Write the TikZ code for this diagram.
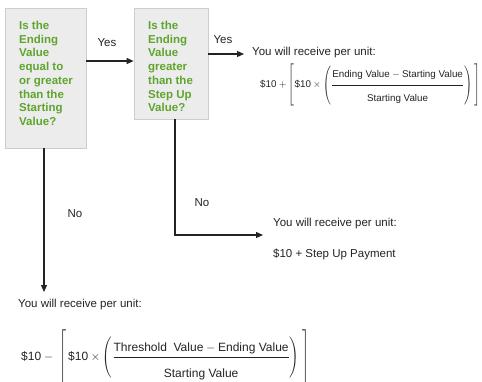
\documentclass[tikz,border=0pt]{standalone}
\usepackage{amsmath}
\usepackage{graphicx}
\usepackage{fontspec}
\setmainfont{Liberation Sans}
\usetikzlibrary{arrows.meta,calc}
\definecolor{qgreen}{RGB}{95,165,45}
\definecolor{boxfill}{RGB}{236,236,236}
\definecolor{boxline}{RGB}{205,205,205}
\definecolor{ink}{RGB}{35,35,35}
% delimiter of height factor #2 times \Bigg size
\newcommand\dopen[2]{\mathopen{\vcenter{\hbox{\scalebox{1}[#2]{$\Biggl#1$}}}}}
\newcommand\dclose[2]{\mathclose{\vcenter{\hbox{\scalebox{1}[#2]{$\Biggr#1$}}}}}
\begin{document}
\begin{tikzpicture}[x=1pt,y=-1pt,
 qbox/.style={draw=boxline, fill=boxfill, line width=0.8pt, inner sep=0},
 qtext/.style={text=qgreen, font=\fontsize{11.5}{13.7}\selectfont\bfseries, align=left, anchor=north west, inner sep=0},
 lbl/.style={text=ink, font=\fontsize{11.5}{13.7}\selectfont, inner sep=0},
 conn/.style={draw=ink, line width=1.2pt},
 arr/.style={conn, -{Triangle[length=7pt,width=6pt]}},
]
\useasboundingbox (0,0) rectangle (482,381);
\node[qbox, minimum width=81pt, minimum height=140pt] (b1) at (45.5,78) {};
\node[qbox, minimum width=74pt, minimum height=111pt] (b2) at (171,63.5) {};
\node[qtext] (t1) at (19,21) {Is the\\Ending\\Value\\equal to\\or greater\\than the\\Starting\\Value?};
\node[qtext] (t2) at (148,21) {Is the\\Ending\\Value\\greater\\than the\\Step Up\\Value?};

\node[lbl] (y1) at (107,43) {Yes};
\node[lbl] (y2) at (223,40) {Yes};
\node[lbl] (n1) at (75,214) {No};
\node[lbl] (n2) at (202,203) {No};

\node[lbl, anchor=west] (r1) at (252,53) {You will receive per unit:};
\node[lbl, anchor=west] (r2) at (273,224) {You will receive per unit:};
\node[lbl, anchor=west] (p2) at (273,254) {\$10 + Step Up Payment};
\node[lbl, anchor=west] (r3) at (18,305) {You will receive per unit:};

\node[lbl, anchor=west, font=\fontsize{9.8}{11}\selectfont] (f1) at (260,85)
 {$\text{\$10} + \dopen[{1.4}\text{\$10}\times\dopen({1.3}\dfrac{\text{Ending Value} - \text{Starting Value}\rule[-6pt]{0pt}{6pt}}{\rule{0pt}{15pt}\text{Starting Value}}\dclose){1.3}\;\dclose]{1.4}$};
\node[lbl, anchor=west, font=\fontsize{12}{14}\selectfont] (f3) at (21,357)
 {$\text{\$10} - \;\dopen[{1.5}\,\text{\$10}\times\dopen({1.14}\dfrac{\text{Threshold\ \ Value} - \text{Ending Value}}{\rule{0pt}{18.9pt}\text{Starting Value}}\dclose){1.14}\;\dclose]{1.5}$};

\coordinate (c1) at (44,292);
\coordinate (c2) at (263,235);
\draw[arr] ([yshift=17pt]b1.east) -- ([yshift=2.5pt]b2.west);
\draw[arr] ([yshift=-1pt]b2.east |- r1.west) -- ([xshift=-8pt,yshift=-1pt]r1.west);
\draw[arr] (b1.south -| c1) -- (c1);
\draw[arr] ([xshift=4pt]b2.south) |- (c2);
\end{tikzpicture}
\end{document}
